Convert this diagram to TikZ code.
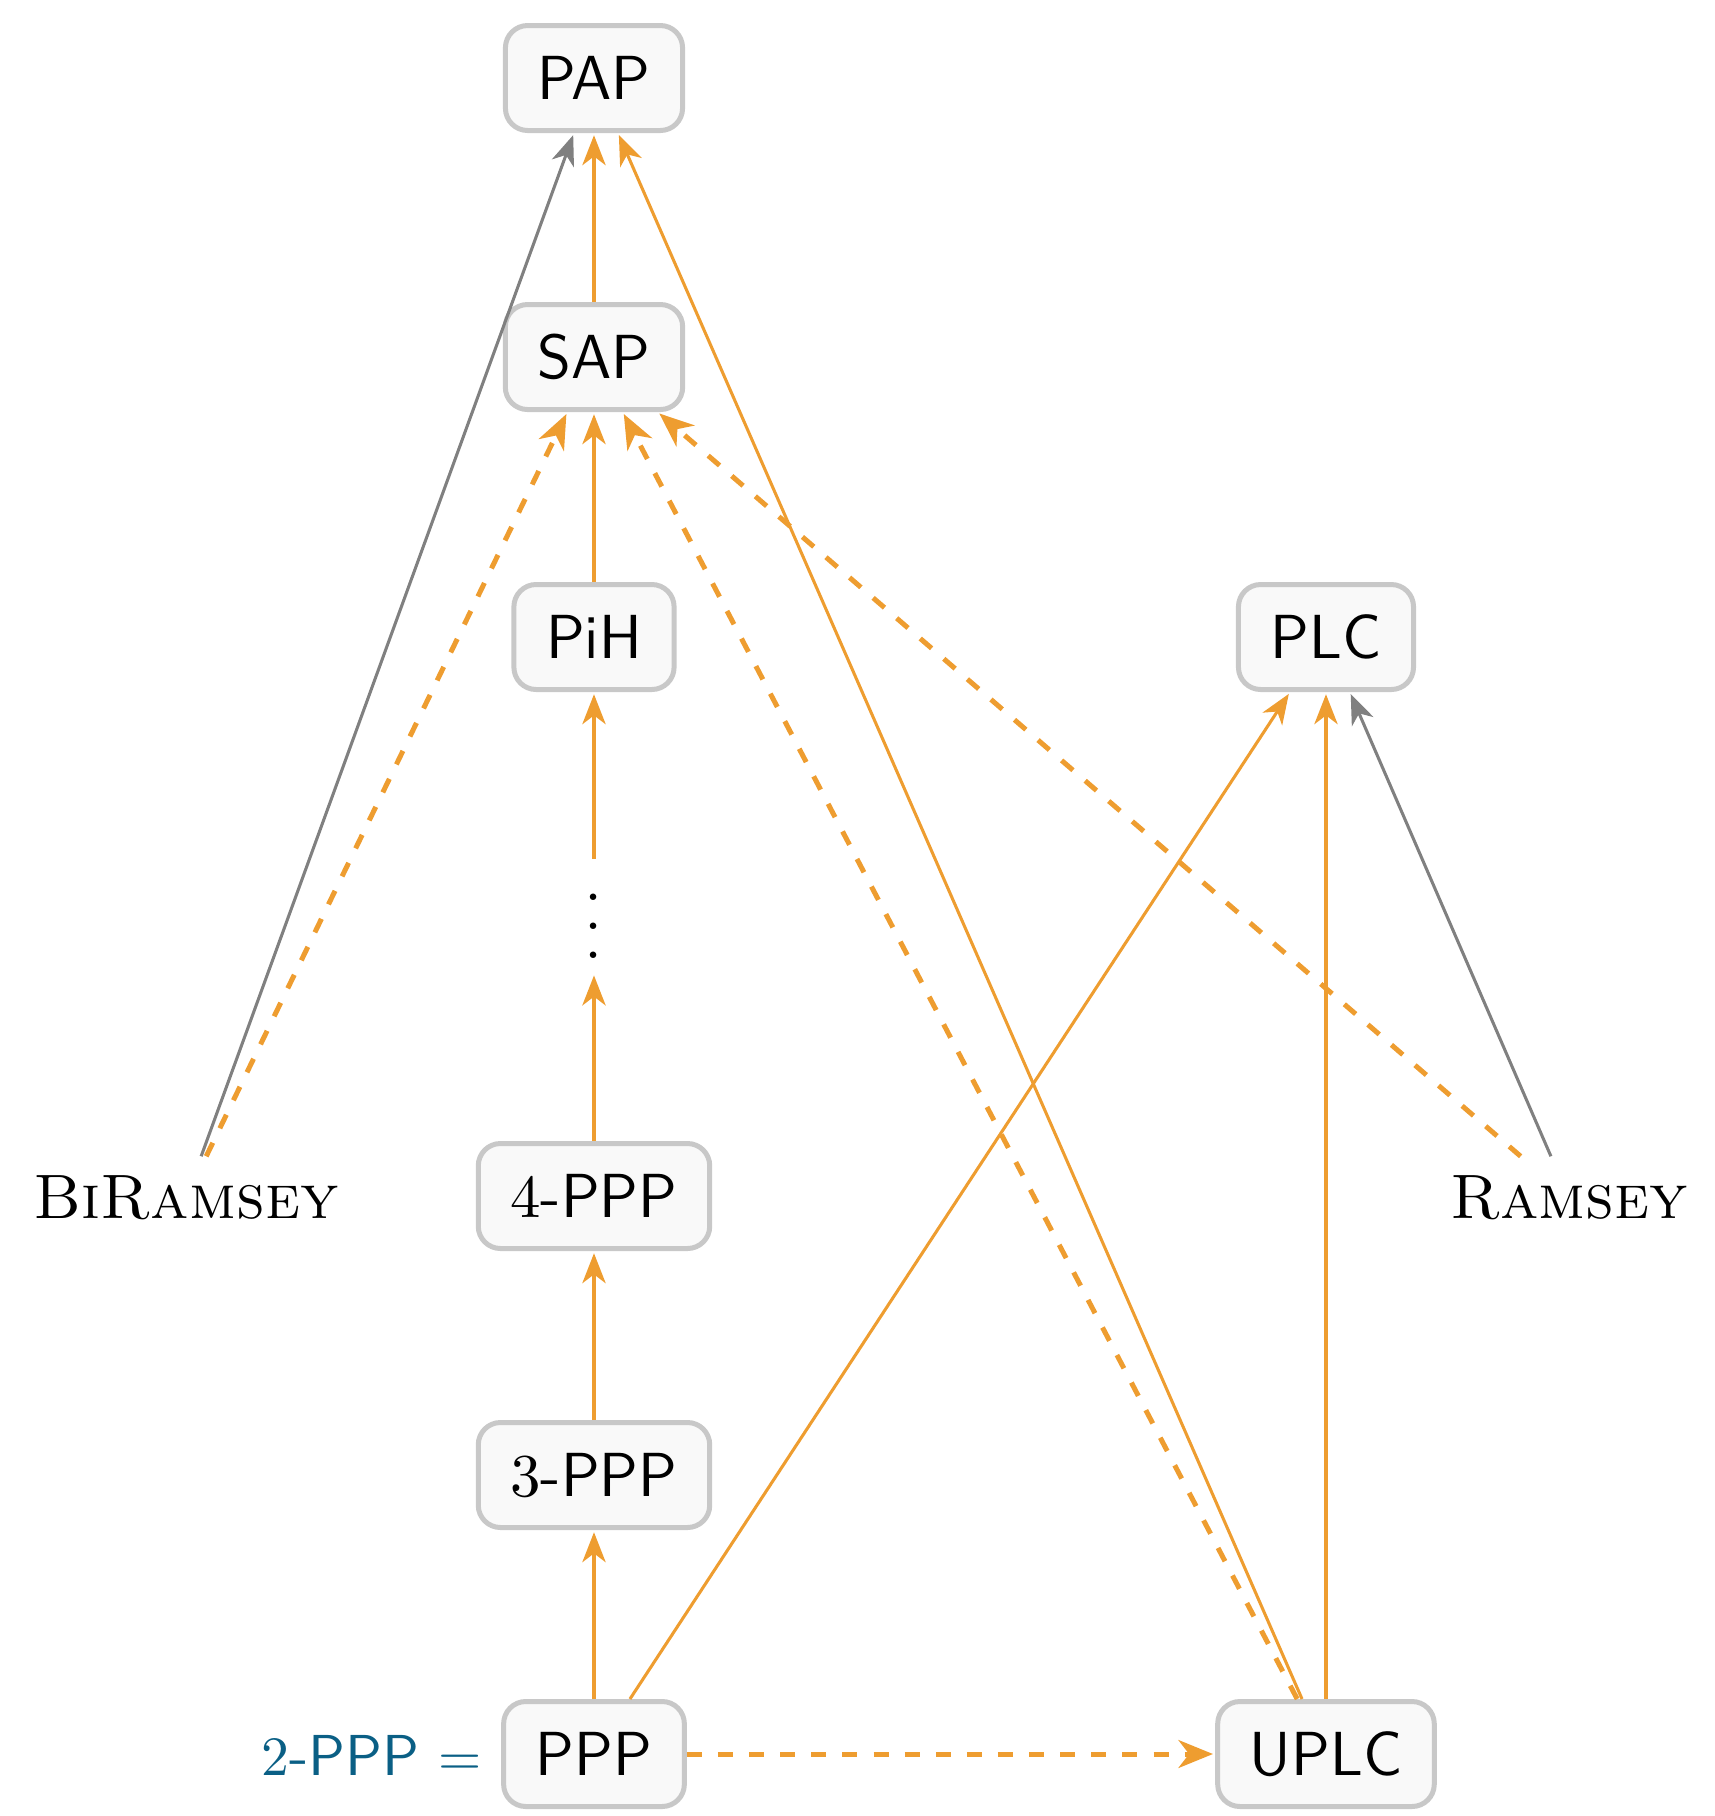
\documentclass[tikz,border=0pt]{standalone}
\usetikzlibrary{arrows.meta}
\definecolor{myorange}{RGB}{238,157,48}
\definecolor{mygray}{RGB}{128,128,128}
\definecolor{myblue}{RGB}{10,95,133}
\definecolor{boxfill}{RGB}{249,249,249}
\definecolor{boxborder}{RGB}{200,200,200}
\begin{document}
\begin{tikzpicture}[x=0.18pt,y=-0.18pt,
  box/.style={draw=boxborder, fill=boxfill, line width=0.9pt, rounded corners=4pt,
    minimum height=18.9pt, inner xsep=5.8pt, font=\sffamily\fontsize{11.2}{13}\selectfont, text=black},
  lbl/.style={font=\normalfont\fontsize{11.3}{13}\selectfont, inner sep=3.33pt},
  orn/.style={-{Stealth[length=5.4pt,width=4.2pt,inset=1.6pt]}, draw=myorange, line width=0.55pt, shorten >=0.4pt},
  ornd/.style={-{Stealth[length=6.2pt,width=5pt,inset=1.9pt]}, draw=myorange, line width=0.9pt, dash pattern=on 2.7pt off 2.9pt, shorten >=0.4pt},
  gry/.style={-{Stealth[length=5.4pt,width=4.2pt,inset=1.6pt]}, draw=mygray, line width=0.55pt, shorten >=0.4pt}]
\useasboundingbox (0,0) rectangle (1715,1816);

\node[box] (PAP) at (594,78) {PAP};
\node[box] (SAP) at (594,357) {SAP};
\node[box] (PiH) at (594,637) {PiH};
\node[box] (PLC) at (1326,637) {PLC};
\node[inner sep=0pt, minimum height=20.2pt, font=\large] (dots) at (594,916)
  {\vbox{\kern3.6pt\baselineskip=5.2pt \lineskiplimit=0pt \hbox{.}\hbox{.}\hbox{.}}};
\node[box] (P4) at (594,1196) {$4$-PPP};
\node[box] (P3) at (594,1475) {$3$-PPP};
\node[box] (PPP) at (594,1754) {PPP};
\node[box] (UPLC) at (1326,1754) {UPLC};
\node[lbl] (BiR) at (186,1198) {\textsc{BiRamsey}};
\node[lbl] (Ram) at (1569,1198) {\textsc{Ramsey}};
\node[anchor=base east, inner sep=3.33pt, text=myblue, font=\sffamily\fontsize{10.4}{12}\selectfont] (eq) at (PPP.base west) {$2$-PPP $=$};

\draw[gry] (BiR) -- (PAP);
\draw[gry] (Ram) -- (PLC);

\draw[orn] (SAP) -- (PAP);
\draw[orn] (UPLC) -- (PAP);
\draw[orn] (PiH) -- (SAP);
\draw[orn] (dots) -- (PiH);
\draw[orn] (P4) -- (dots);
\draw[orn] (P3) -- (P4);
\draw[orn] (PPP) -- (P3);
\draw[orn] (PPP) -- (PLC);
\draw[orn] (UPLC) -- (PLC);

\draw[ornd] (BiR) -- (SAP);
\draw[ornd] (UPLC) -- (SAP);
\draw[ornd] (Ram) -- (SAP);
\draw[ornd] (PPP) -- (UPLC);
\end{tikzpicture}
\end{document}
